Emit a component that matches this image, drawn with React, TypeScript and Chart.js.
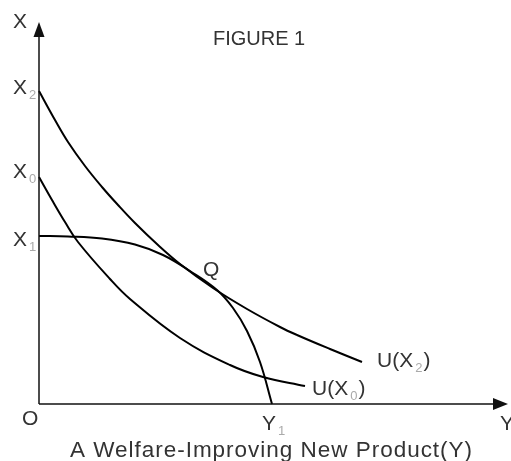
import React, { useEffect, useRef } from "react";
import { Chart, registerables } from "chart.js";

Chart.register(...registerables);

// ---- Data (diagram units) ----
const AXIS_X_END = 469;
const AXIS_Y_END = 382;

const u2X = [0, 16, 29, 46, 63, 79, 96, 119, 141, 174, 208, 241, 258, 291, 323];
const u2Y = [313, 284, 262, 238, 217, 199, 181, 159, 140, 116, 95, 77, 69, 55, 42];

const u0X = [0, 13, 26, 39, 71, 91, 141, 191, 224, 266];
const u0Y = [227, 204, 182, 162, 125, 105, 66, 39, 27, 18];

const ppfX = [0, 29, 63, 96, 124, 151, 178, 194, 208, 221, 233];
const ppfY = [168, 167.5, 165.5, 159.5, 149, 133, 114, 96, 73, 42, 0];

const X2_LEVEL = 313;
const X0_LEVEL = 227;
const X1_LEVEL = 168;
const Y1_VALUE = 233;
const Q_POINT = [178, 114];

const TITLE = "FIGURE 1";
const CAPTION = "A Welfare-Improving New Product(Y)";

const toPts = (xs: number[], ys: number[]) => xs.map((x, i) => ({ x, y: ys[i] }));

const FONT = "'Liberation Sans', Arial, sans-serif";
const MAIN_COLOR = "#333";
const SUB_COLOR = "#aaa";

function drawLabel(
  ctx: CanvasRenderingContext2D,
  x: number,
  y: number,
  parts: [string, boolean][],
  size = 21
) {
  let cx = x;
  for (const [txt, sub] of parts) {
    if (sub) {
      ctx.font = `${Math.round(size * 0.62)}px ${FONT}`;
      ctx.fillStyle = SUB_COLOR;
      cx += 2;
      ctx.fillText(txt, cx, y + 5);
      cx += ctx.measureText(txt).width + 1;
    } else {
      ctx.font = `${size}px ${FONT}`;
      ctx.fillStyle = MAIN_COLOR;
      ctx.fillText(txt, cx, y);
      cx += ctx.measureText(txt).width;
    }
  }
}

const decorPlugin = {
  id: "decor",
  afterDatasetsDraw(chart: any) {
    const ctx: CanvasRenderingContext2D = chart.ctx;
    const xs = (v: number) => chart.scales.x.getPixelForValue(v);
    const ys = (v: number) => chart.scales.y.getPixelForValue(v);
    ctx.save();
    // arrowheads
    ctx.fillStyle = "#111";
    const ox = xs(0);
    const oy = ys(0);
    const ty = ys(AXIS_Y_END);
    ctx.beginPath();
    ctx.moveTo(ox, ty);
    ctx.lineTo(ox - 5.5, ty + 15);
    ctx.lineTo(ox + 5.5, ty + 15);
    ctx.closePath();
    ctx.fill();
    const tx = xs(AXIS_X_END);
    ctx.beginPath();
    ctx.moveTo(tx, oy);
    ctx.lineTo(tx - 15, oy - 6);
    ctx.lineTo(tx - 15, oy + 6);
    ctx.closePath();
    ctx.fill();

    ctx.textBaseline = "alphabetic";
    ctx.textAlign = "left";
    drawLabel(ctx, ox - 26, ty + 6, [["X", false]]);
    drawLabel(ctx, ox - 26, ys(X2_LEVEL) + 3, [["X", false], ["2", true]]);
    drawLabel(ctx, ox - 26, ys(X0_LEVEL) + 1, [["X", false], ["0", true]]);
    drawLabel(ctx, ox - 26, ys(X1_LEVEL) + 10, [["X", false], ["1", true]]);
    drawLabel(ctx, ox - 17, oy + 21, [["O", false]]);
    drawLabel(ctx, xs(Y1_VALUE) - 10, oy + 26, [["Y", false], ["1", true]]);
    drawLabel(ctx, tx - 8, oy + 26, [["Y", false]]);
    drawLabel(ctx, xs(Q_POINT[0]) - 14, ys(Q_POINT[1]) - 14, [["Q", false]]);
    const u2e = u2X.length - 1;
    drawLabel(ctx, xs(u2X[u2e]) + 15, ys(u2Y[u2e]) + 5, [["U(X", false], ["2", true], [")", false]]);
    const u0e = u0X.length - 1;
    drawLabel(ctx, xs(u0X[u0e]) + 7, ys(u0Y[u0e]) + 9, [["U(X", false], ["0", true], [")", false]]);

    // title
    ctx.font = `20px ${FONT}`;
    ctx.fillStyle = MAIN_COLOR;
    ctx.fillText(TITLE, ox + 174, ty + 23);

    // caption, stretched to its width
    ctx.font = `22.5px ${FONT}`;
    const w0 = ctx.measureText(CAPTION).width;
    const target = 402;
    const sp = (target - w0) / (CAPTION.length - 1);
    (ctx as any).letterSpacing = `${sp.toFixed(2)}px`;
    ctx.fillText(CAPTION, ox + 31, oy + 53);
    (ctx as any).letterSpacing = "0px";
    ctx.restore();
  },
};

export default function App() {
  const ref = useRef<HTMLCanvasElement | null>(null);
  useEffect(() => {
    document.body.style.margin = "0";
    const canvas = ref.current!;
    const curve = (xs: number[], ys: number[]) => ({
      data: toPts(xs, ys),
      borderColor: "#000",
      borderWidth: 2,
      pointRadius: 0,
      fill: false,
      tension: 0.4,
      clip: false as any,
    });
    const axis = (pts: { x: number; y: number }[]) => ({
      data: pts,
      borderColor: "#111",
      borderWidth: 1.5,
      pointRadius: 0,
      fill: false,
      clip: false as any,
    });
    const chart = new Chart(canvas, {
      type: "line",
      data: {
        datasets: [
          axis([{ x: 0, y: 0 }, { x: AXIS_X_END - 10, y: 0 }]),
          axis([{ x: 0, y: 0 }, { x: 0, y: AXIS_Y_END - 10 }]),
          curve(u2X, u2Y),
          curve(u0X, u0Y),
          curve(ppfX, ppfY),
        ],
      },
      options: {
        responsive: false,
        animation: false,
        layout: { padding: { left: 39, right: 3, top: 22, bottom: 57 } },
        plugins: { legend: { display: false }, tooltip: { enabled: false }, title: { display: false } },
        scales: {
          x: { type: "linear", min: 0, max: AXIS_X_END, display: false },
          y: { type: "linear", min: 0, max: AXIS_Y_END, display: false },
        },
      },
      plugins: [decorPlugin],
    });
    return () => chart.destroy();
  }, []);
  return (
    <div style={{ width: 511, height: 461, background: "#fff" }}>
      <canvas ref={ref} width={511} height={461} style={{ display: "block" }} />
    </div>
  );
}
